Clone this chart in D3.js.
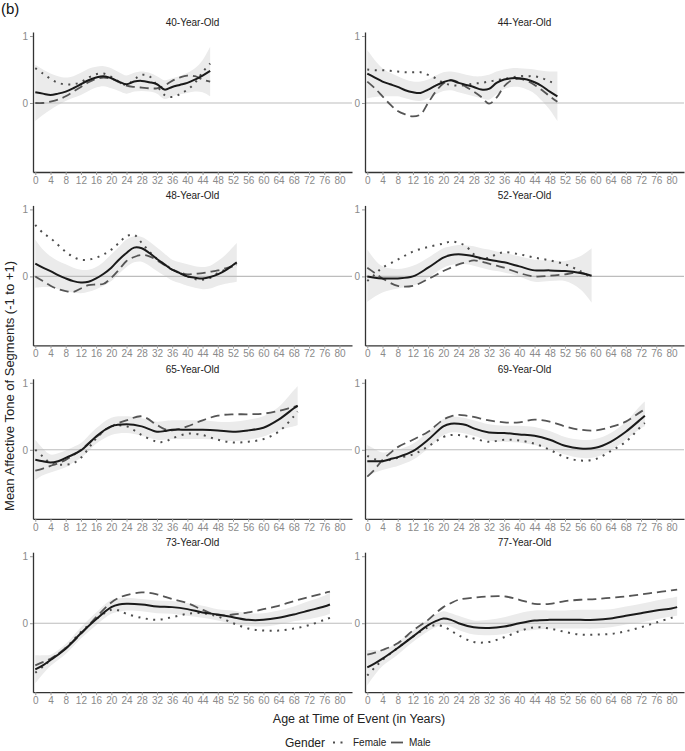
<!DOCTYPE html>
<html><head><meta charset="utf-8">
<script src="https://cdn.jsdelivr.net/npm/d3@7"></script>
<style>body{margin:0;background:#fff} svg{display:block} text{font-family:"Liberation Sans",Arial,sans-serif}</style>
</head><body><svg id="chart" width="685" height="751"></svg>
<script>
const panelTitles = ["40-Year-Old","44-Year-Old","48-Year-Old","52-Year-Old","65-Year-Old","69-Year-Old","73-Year-Old","77-Year-Old"];
const xTickValues = [0,4,8,12,16,20,24,28,32,36,40,44,48,52,56,60,64,68,72,76,80];
const yTickValues = [0,1];
const legendLabels = ["Female","Male"];

const ages = [
  [0,2,4,6,8,10,12,14,16,18,20,22,24,26,28,30,32,34,36,38,40,42,44,46],
  [0,2,4,6,8,10,12,14,16,18,20,22,24,26,28,30,32,34,36,38,40,42,44,46,48,50],
  [0,2,4,6,8,10,12,14,16,18,20,22,24,26,28,30,32,34,36,38,40,42,44,46,48,50,52,53],
  [0,2,4,8,12,16,20,22,24,26,28,30,32,34,36,40,44,48,52,56,59],
  [0,2,4,6,8,10,12,14,16,20,24,28,32,34,36,40,44,48,52,56,60,64,68,69],
  [0,2,4,6,8,12,16,20,22,24,26,28,32,36,40,44,48,52,56,60,64,68,72,73],
  [0,2,4,8,12,16,20,22,24,28,32,36,40,44,48,52,56,60,64,68,72,76,77.5],
  [0,2,4,8,12,16,18,20,22,24,28,32,36,40,44,48,52,56,60,64,68,72,76,80,81.5]
];

const overallMean = [
  [0.16,0.14,0.12,0.14,0.17,0.22,0.28,0.34,0.38,0.40,0.37,0.32,0.28,0.32,0.33,0.31,0.28,0.20,0.24,0.27,0.30,0.35,0.41,0.48],
  [0.44,0.38,0.32,0.28,0.24,0.19,0.16,0.15,0.20,0.26,0.31,0.34,0.30,0.27,0.24,0.20,0.21,0.30,0.35,0.37,0.37,0.35,0.31,0.25,0.17,0.10],
  [0.19,0.13,0.08,0.02,-0.03,-0.07,-0.09,-0.08,-0.03,0.04,0.13,0.25,0.35,0.43,0.42,0.35,0.26,0.18,0.10,0.05,0.0,-0.02,-0.03,-0.01,0.03,0.09,0.17,0.21],
  [0.0,-0.02,-0.03,-0.03,0.0,0.13,0.28,0.32,0.33,0.32,0.30,0.27,0.25,0.23,0.21,0.15,0.09,0.09,0.08,0.05,0.01],
  [-0.15,-0.17,-0.19,-0.17,-0.12,-0.07,-0.01,0.09,0.20,0.35,0.38,0.35,0.27,0.28,0.30,0.30,0.30,0.29,0.27,0.29,0.33,0.45,0.62,0.66],
  [-0.17,-0.17,-0.17,-0.14,-0.11,-0.02,0.15,0.35,0.39,0.39,0.37,0.32,0.26,0.25,0.23,0.21,0.15,0.06,0.02,0.03,0.12,0.27,0.46,0.51],
  [-0.69,-0.63,-0.55,-0.38,-0.15,0.06,0.24,0.28,0.29,0.28,0.25,0.24,0.21,0.16,0.13,0.09,0.05,0.05,0.08,0.13,0.19,0.25,0.28],
  [-0.66,-0.60,-0.53,-0.37,-0.20,-0.03,0.03,0.07,0.05,0.0,-0.06,-0.07,-0.05,0.0,0.04,0.05,0.05,0.05,0.05,0.07,0.11,0.15,0.19,0.22,0.24]
];

const overallLow = [
  [-0.27,-0.18,-0.10,-0.03,0.03,0.08,0.12,0.18,0.23,0.25,0.22,0.18,0.14,0.17,0.18,0.17,0.14,0.06,0.10,0.13,0.15,0.17,0.16,0.10],
  [0.07,0.09,0.10,0.10,0.10,0.07,0.04,0.03,0.07,0.13,0.18,0.19,0.16,0.13,0.10,0.07,0.05,0.13,0.21,0.24,0.24,0.20,0.14,0.03,-0.10,-0.27],
  [-0.17,-0.16,-0.16,-0.19,-0.22,-0.24,-0.25,-0.23,-0.19,-0.14,-0.07,0.04,0.14,0.21,0.22,0.16,0.08,0.01,-0.06,-0.10,-0.14,-0.17,-0.19,-0.18,-0.14,-0.11,-0.09,-0.08],
  [-0.38,-0.30,-0.24,-0.18,-0.14,-0.02,0.13,0.17,0.19,0.18,0.16,0.13,0.10,0.08,0.06,0.0,-0.08,-0.07,-0.07,-0.19,-0.39],
  [-0.45,-0.38,-0.34,-0.30,-0.26,-0.19,-0.12,-0.02,0.09,0.22,0.25,0.21,0.15,0.15,0.16,0.16,0.16,0.15,0.13,0.15,0.20,0.29,0.35,0.37],
  [-0.39,-0.34,-0.30,-0.27,-0.24,-0.15,0.02,0.22,0.26,0.26,0.24,0.21,0.14,0.12,0.11,0.07,0.01,-0.07,-0.12,-0.11,-0.01,0.15,0.32,0.35],
  [-0.90,-0.76,-0.64,-0.46,-0.23,-0.03,0.14,0.17,0.19,0.18,0.15,0.14,0.11,0.08,0.04,-0.01,-0.04,-0.05,-0.02,0.03,0.06,0.11,0.14],
  [-0.93,-0.77,-0.64,-0.47,-0.28,-0.12,-0.06,-0.02,-0.05,-0.10,-0.17,-0.18,-0.16,-0.12,-0.10,-0.08,-0.08,-0.08,-0.08,-0.06,-0.02,0.01,0.06,0.10,0.11]
];

const overallHigh = [
  [0.57,0.50,0.44,0.40,0.38,0.40,0.45,0.51,0.54,0.55,0.52,0.46,0.41,0.45,0.47,0.45,0.40,0.34,0.37,0.40,0.45,0.52,0.64,0.84],
  [0.79,0.64,0.52,0.45,0.40,0.35,0.32,0.32,0.35,0.41,0.46,0.47,0.45,0.42,0.40,0.40,0.42,0.47,0.50,0.52,0.52,0.51,0.50,0.48,0.47,0.47],
  [0.55,0.40,0.30,0.23,0.18,0.13,0.10,0.10,0.14,0.22,0.33,0.44,0.55,0.60,0.59,0.52,0.43,0.34,0.25,0.21,0.18,0.15,0.14,0.16,0.23,0.32,0.44,0.50],
  [0.40,0.25,0.15,0.11,0.16,0.28,0.42,0.45,0.47,0.46,0.45,0.42,0.40,0.37,0.35,0.30,0.25,0.24,0.23,0.30,0.42],
  [0.15,0.02,-0.07,-0.05,-0.01,0.04,0.10,0.21,0.32,0.48,0.50,0.47,0.42,0.43,0.44,0.44,0.44,0.42,0.42,0.45,0.50,0.64,0.89,0.95],
  [0.07,0.01,-0.04,-0.02,0.0,0.09,0.27,0.46,0.49,0.49,0.47,0.44,0.38,0.36,0.36,0.34,0.28,0.19,0.15,0.16,0.25,0.42,0.67,0.72],
  [-0.48,-0.48,-0.47,-0.31,-0.06,0.16,0.35,0.37,0.38,0.36,0.34,0.33,0.30,0.26,0.21,0.19,0.15,0.15,0.19,0.25,0.33,0.41,0.46],
  [-0.40,-0.40,-0.41,-0.28,-0.11,0.06,0.13,0.18,0.15,0.11,0.04,0.05,0.09,0.15,0.19,0.19,0.19,0.20,0.20,0.21,0.25,0.29,0.34,0.38,0.40]
];

const femaleMean = [
  [0.52,0.44,0.36,0.30,0.28,0.28,0.31,0.38,0.43,0.44,0.39,0.32,0.27,0.35,0.42,0.40,0.26,0.12,0.09,0.13,0.20,0.30,0.46,0.59],
  [0.50,0.49,0.49,0.48,0.47,0.46,0.46,0.46,0.42,0.37,0.30,0.27,0.26,0.27,0.29,0.30,0.32,0.34,0.36,0.38,0.40,0.40,0.40,0.37,0.32,0.29],
  [0.77,0.65,0.57,0.47,0.37,0.29,0.25,0.25,0.28,0.33,0.40,0.50,0.60,0.62,0.50,0.37,0.26,0.18,0.11,0.05,0.0,-0.04,-0.05,-0.02,0.05,0.10,0.16,0.18],
  [-0.07,0.03,0.13,0.25,0.37,0.44,0.49,0.52,0.50,0.45,0.33,0.26,0.28,0.33,0.36,0.33,0.28,0.24,0.18,0.08,-0.02],
  [0.0,-0.10,-0.20,-0.22,-0.22,-0.20,-0.12,0.02,0.17,0.35,0.35,0.22,0.12,0.12,0.17,0.24,0.22,0.15,0.11,0.12,0.16,0.27,0.50,0.57],
  [-0.09,-0.14,-0.17,-0.15,-0.12,-0.07,0.05,0.19,0.22,0.22,0.20,0.17,0.12,0.15,0.14,0.09,0.0,-0.11,-0.16,-0.14,-0.02,0.12,0.35,0.40],
  [-0.74,-0.65,-0.55,-0.37,-0.13,0.06,0.20,0.19,0.14,0.08,0.05,0.09,0.14,0.15,0.10,0.0,-0.08,-0.11,-0.11,-0.08,-0.03,0.05,0.08],
  [-0.78,-0.66,-0.55,-0.37,-0.20,-0.06,-0.03,-0.05,-0.11,-0.18,-0.28,-0.28,-0.21,-0.12,-0.06,-0.08,-0.13,-0.17,-0.17,-0.16,-0.12,-0.06,0.01,0.08,0.10]
];

const maleMean = [
  [0.0,0.0,0.02,0.05,0.10,0.17,0.24,0.31,0.36,0.38,0.36,0.31,0.26,0.24,0.23,0.22,0.22,0.26,0.33,0.38,0.41,0.40,0.35,0.32],
  [0.32,0.22,0.10,-0.02,-0.12,-0.17,-0.20,-0.17,0.0,0.17,0.29,0.34,0.31,0.24,0.17,0.09,-0.01,0.08,0.25,0.34,0.36,0.33,0.27,0.19,0.10,0.02],
  [0.0,-0.07,-0.14,-0.19,-0.22,-0.23,-0.18,-0.13,-0.12,-0.11,-0.02,0.10,0.23,0.29,0.32,0.30,0.24,0.17,0.10,0.06,0.03,0.04,0.05,0.07,0.09,0.12,0.15,0.16],
  [0.13,0.05,-0.03,-0.14,-0.14,-0.04,0.08,0.13,0.18,0.21,0.24,0.22,0.19,0.16,0.13,0.05,0.0,0.01,0.03,0.06,0.0],
  [-0.31,-0.28,-0.24,-0.20,-0.15,-0.08,0.0,0.10,0.19,0.35,0.44,0.50,0.37,0.31,0.29,0.35,0.44,0.51,0.53,0.53,0.54,0.58,0.64,0.65],
  [-0.40,-0.29,-0.15,-0.05,0.04,0.15,0.27,0.45,0.50,0.52,0.51,0.49,0.44,0.41,0.41,0.45,0.42,0.35,0.30,0.29,0.34,0.42,0.57,0.60],
  [-0.63,-0.58,-0.53,-0.37,-0.16,0.09,0.31,0.38,0.42,0.46,0.43,0.36,0.30,0.20,0.12,0.13,0.16,0.21,0.26,0.33,0.39,0.45,0.47],
  [-0.47,-0.44,-0.40,-0.30,-0.11,0.05,0.15,0.24,0.30,0.35,0.38,0.40,0.40,0.35,0.29,0.29,0.33,0.35,0.36,0.38,0.40,0.43,0.46,0.49,0.50]
];

const svg = d3.select("#chart");
const W = 319, H = 140;
const colX = [33, 365];
const rowY = [32, 205.4, 378.8, 552.2];
const x = d3.scaleLinear().domain([-0.6, 83.3]).range([0, W]);
const y = d3.scaleLinear().domain([-1.03, 1.06]).range([H, 0]);
const curve = d3.curveCatmullRom.alpha(0.5);

svg.append("text").attr("x", 1).attr("y", 14).attr("font-size", 15).attr("fill", "#111").text("(b)");

panelTitles.forEach((title, i) => {
  const g = svg.append("g").attr("transform", `translate(${colX[i % 2]},${rowY[Math.floor(i / 2)]})`);
  const pts = ages[i].map((a, j) => ({a, m: overallMean[i][j], lo: overallLow[i][j], hi: overallHigh[i][j], f: femaleMean[i][j], ma: maleMean[i][j]}));

  g.append("path").datum(pts)
    .attr("d", d3.area().x(d => x(d.a)).y0(d => y(d.lo)).y1(d => y(d.hi)).curve(curve))
    .attr("fill", "#ebebeb");

  g.append("line").attr("x1", 0).attr("x2", W).attr("y1", y(0)).attr("y2", y(0))
    .attr("stroke", "#bdbdbd").attr("stroke-width", 1.1);

  g.append("path").datum(pts)
    .attr("d", d3.line().x(d => x(d.a)).y(d => y(d.f)).curve(curve))
    .attr("fill", "none").attr("stroke", "#4d4d4d").attr("stroke-width", 2).attr("stroke-dasharray", "2,5.5");
  g.append("path").datum(pts)
    .attr("d", d3.line().x(d => x(d.a)).y(d => y(d.ma)).curve(curve))
    .attr("fill", "none").attr("stroke", "#555").attr("stroke-width", 1.8).attr("stroke-dasharray", "9,5");
  g.append("path").datum(pts)
    .attr("d", d3.line().x(d => x(d.a)).y(d => y(d.m)).curve(curve))
    .attr("fill", "none").attr("stroke", "#1a1a1a").attr("stroke-width", 2);

  const xa = g.append("g").attr("transform", `translate(0,${H})`)
    .call(d3.axisBottom(x).tickValues(xTickValues).tickSize(3).tickSizeOuter(0).tickPadding(2));
  const ya = g.append("g")
    .call(d3.axisLeft(y).tickValues(yTickValues).tickFormat(d3.format("d")).tickSize(3).tickSizeOuter(0).tickPadding(2));
  [xa, ya].forEach(a => {
    a.select(".domain").attr("stroke", "#333").attr("stroke-width", 1.3);
    a.selectAll(".tick line").attr("stroke", "#999");
    a.selectAll(".tick text").attr("fill", "#8a8a8a").attr("font-size", 10).attr("font-family", '"Liberation Sans",Arial,sans-serif');
  });

  g.append("text").attr("x", W / 2).attr("y", -6).attr("text-anchor", "middle")
    .attr("font-size", 10).attr("fill", "#222").text(title);
});

svg.append("text").attr("x", 359).attr("y", 723).attr("text-anchor", "middle")
  .attr("font-size", 12.5).attr("fill", "#222").text("Age at Time of Event (in Years)");
svg.append("text").attr("transform", "translate(14,386) rotate(-90)").attr("text-anchor", "middle")
  .attr("font-size", 13).attr("fill", "#222").text("Mean Affective Tone of Segments (-1 to +1)");

const lg = svg.append("g");
lg.append("text").attr("x", 285).attr("y", 747).attr("font-size", 12).attr("fill", "#222").text("Gender");
lg.append("line").attr("x1", 333).attr("x2", 346).attr("y1", 742.5).attr("y2", 742.5)
  .attr("stroke", "#4d4d4d").attr("stroke-width", 2).attr("stroke-dasharray", "2,5.5");
lg.append("text").attr("x", 353).attr("y", 746).attr("font-size", 10).attr("fill", "#222").text(legendLabels[0]);
lg.append("line").attr("x1", 391).attr("x2", 403).attr("y1", 742.5).attr("y2", 742.5)
  .attr("stroke", "#555").attr("stroke-width", 1.8);
lg.append("text").attr("x", 409).attr("y", 746).attr("font-size", 10).attr("fill", "#222").text(legendLabels[1]);
</script></body></html>
